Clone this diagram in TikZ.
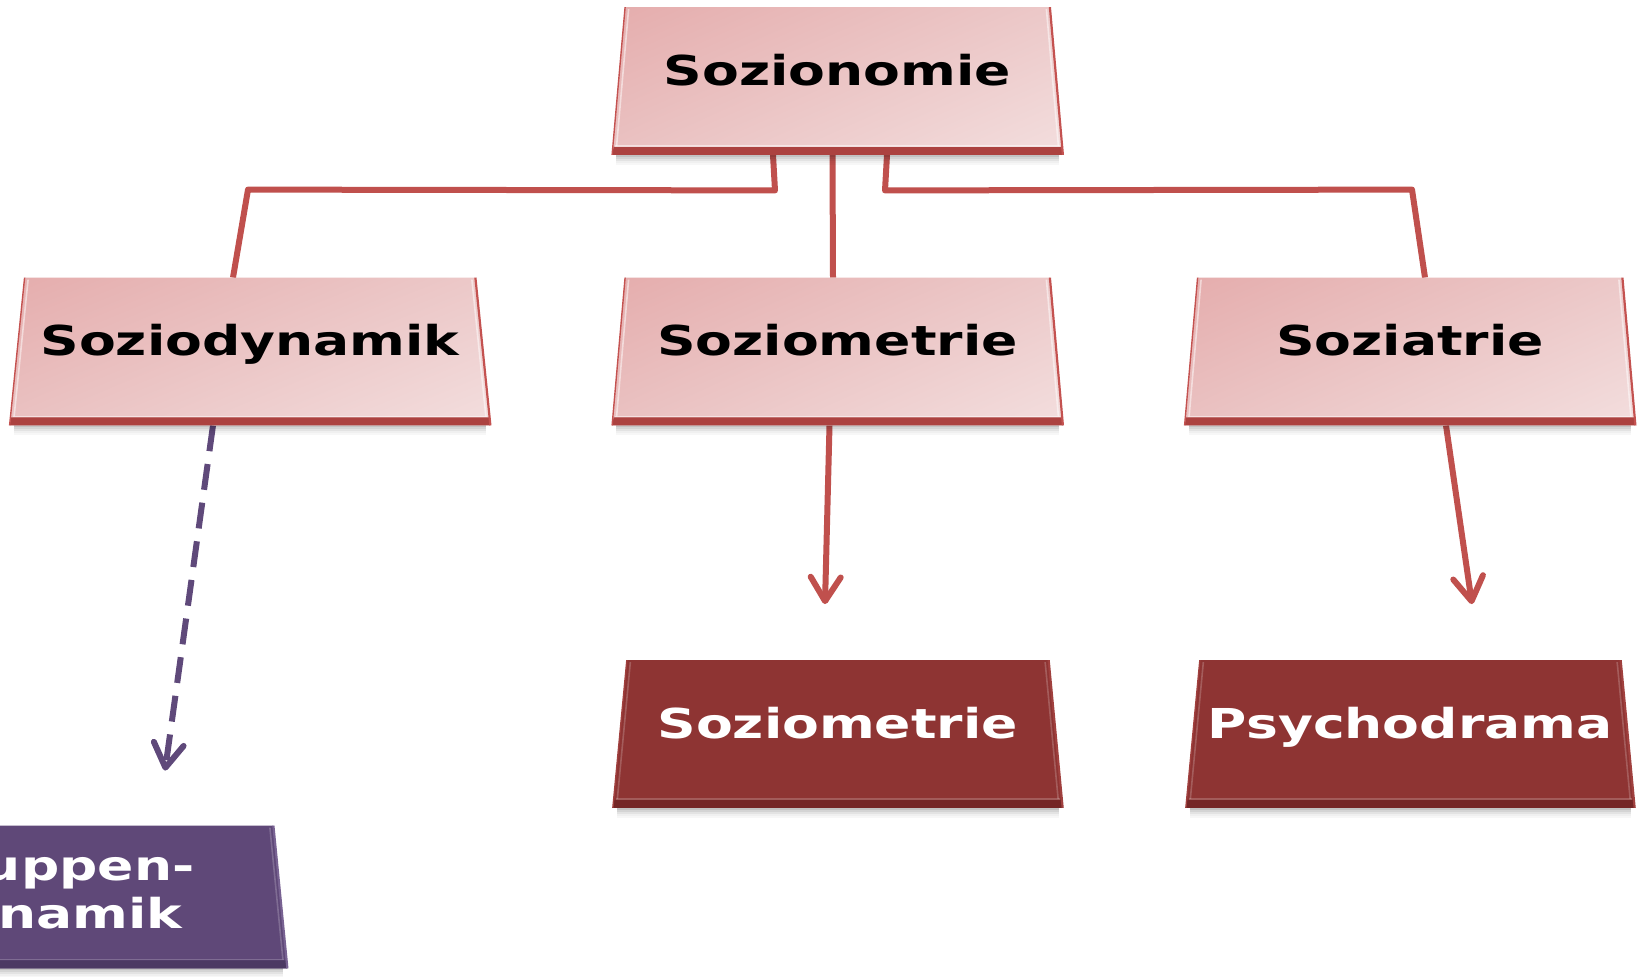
\documentclass[tikz,border=0pt]{standalone}
\usepackage{fontspec}
\newfontfamily\cardfont{DejaVu Sans}[FakeStretch=1.3]
\usetikzlibrary{calc,arrows.meta,shadings}

\definecolor{linkred}{HTML}{C0504D}
\definecolor{pinkA}{RGB}{229,173,173}
\definecolor{pinkB}{RGB}{236,201,201}
\definecolor{pinkC}{RGB}{234,194,194}
\definecolor{pinkD}{RGB}{243,222,222}
\definecolor{pinkBand}{RGB}{172,66,64}
\definecolor{pinkEdge}{RGB}{196,82,80}
\definecolor{wine}{RGB}{142,52,51}
\definecolor{wineBand}{RGB}{116,38,38}
\definecolor{wineEdge}{RGB}{160,64,62}
\definecolor{plum}{RGB}{95,72,120}
\definecolor{plumBand}{RGB}{76,57,99}
\definecolor{plumEdge}{RGB}{120,98,146}
\definecolor{plumLink}{RGB}{95,73,122}

\pgfdeclarelayer{bg}
\pgfdeclarelayer{links}
\pgfdeclarelayer{cards}
\pgfsetlayers{bg,links,cards,main}

\tikzset{
  card/.style={minimum height=73.5pt, inner sep=0pt,
    font=\cardfont\bfseries\fontsize{20.6}{24}\selectfont,
    text height=15pt, text depth=11pt},
  lightcard/.style={card, text=black},
  darkcard/.style={card, text=white},
  pinkfill/.style={upper left=pinkA, upper right=pinkB, lower left=pinkC, lower right=pinkD},
  winefill/.style={top color=wine, bottom color=wine},
  plumfill/.style={top color=plum, bottom color=plum},
  link/.style={linkred, line width=3pt, line join=round},
  arrowlink/.style={link, -{Straight Barb[length=12pt,width=15pt,round]}},
  dashlink/.style={plumLink, line width=3pt, dash pattern=on 13pt off 6.5pt,
    -{Straight Barb[length=12pt,width=15pt,round]}},
}

% Bevelled card behind a node: #1 node, #2 half slant (px), #3 fill style,
% #4 bottom band colour, #5 side edge colour, #6 highlight strength
\newcommand\cardbody[6]{%
  \begin{pgfonlayer}{cards}
    \path (#1.north west) ++(#2,0) coordinate (#1-nw)
          (#1.north east) ++(-#2,0) coordinate (#1-ne)
          (#1.south east) ++(#2,0) coordinate (#1-se)
          (#1.south west) ++(-#2,0) coordinate (#1-sw);
    % soft shadow under the card
    \foreach \d/\o in {1/0.24,3/0.17,5/0.11,7/0.06,9/0.03}
      \draw[black, opacity=\o, line width=1pt]
        ($(#1-sw)+(4,\d)$) -- ($(#1-se)+(-4,\d)$);
    \shade[#3] (#1-nw) -- (#1-ne) -- (#1-se) -- (#1-sw) -- cycle;
    \fill[#4] (#1-sw) -- (#1-se) -- ($(#1-se)+(-1.5,-8)$) -- ($(#1-sw)+(1.5,-8)$) -- cycle;
    \draw[white, opacity=#6, line width=0.8pt]
      ($(#1-sw)+(3,-9)$) -- ($(#1-se)+(-3,-9)$);
    \draw[white, opacity=#6, line width=0.8pt]
      ($(#1-ne)+(-3.5,2)$) -- ($(#1-se)+(-4.5,-9)$);
    \draw[white, opacity=#6, line width=0.8pt]
      ($(#1-nw)+(3.5,2)$) -- ($(#1-sw)+(4.5,-9)$);
    \draw[#5, line width=1.1pt] (#1-ne) -- (#1-se);
    \draw[#5, line width=0.7pt] (#1-nw) -- (#1-sw);
  \end{pgfonlayer}}

\begin{document}
\begin{tikzpicture}[x=0.5pt, y=-0.5pt]
  \useasboundingbox (0,0) rectangle (1640,976);
  \begin{pgfonlayer}{bg}
    \fill[white] (0,0) rectangle (1640,976);
  \end{pgfonlayer}

  % cards
  \node[lightcard, minimum width=218.5pt] (top)   at (837.5,81)    {Sozionomie};
  \node[lightcard, minimum width=232.5pt] (dyn)   at (250,351.5)   {Soziodynamik};
  \node[lightcard, minimum width=218.5pt] (met)   at (837.5,351.5) {Soziometrie};
  \node[lightcard, minimum width=218.5pt] (sozia) at (1410,351.5)  {Soziatrie};
  \node[darkcard, minimum width=217.5pt]  (metb)  at (837.75,734)  {Soziometrie};
  \node[darkcard, minimum width=217pt]    (psy)   at (1410.25,734) {Psychodrama};
  \node[darkcard, minimum width=226.5pt, minimum height=71pt, align=center,
        text height=39pt, text depth=8pt] (grp) at (53.5,897) {Gruppen-\\dynamik};

  \cardbody{top}{6.5}{pinkfill}{pinkBand}{pinkEdge}{0.5}
  \cardbody{dyn}{7.5}{pinkfill}{pinkBand}{pinkEdge}{0.5}
  \cardbody{met}{6.5}{pinkfill}{pinkBand}{pinkEdge}{0.5}
  \cardbody{sozia}{6.5}{pinkfill}{pinkBand}{pinkEdge}{0.5}
  \cardbody{metb}{7}{winefill}{wineBand}{wineEdge}{0.2}
  \cardbody{psy}{7}{winefill}{wineBand}{wineEdge}{0.2}
  \cardbody{grp}{7}{plumfill}{plumBand}{plumEdge}{0.2}

  % connectors
  \begin{pgfonlayer}{links}
    \draw[link] ($(top.south)+(-64.5,0)$) -- ($(top.south)+(-62.5,35.5)$)
                -- ($(dyn.north)+(-2,-88)$) -- ($(dyn.north)+(-17,0)$);
    \draw[link] ($(top.south)+(-5,0)$) -- ($(met.north)+(-4.5,0)$);
    \draw[link] ($(top.south)+(49.5,0)$) -- ($(top.south)+(47.5,35.5)$)
                -- ($(sozia.north)+(2,-88)$) -- ($(sozia.north)+(15,0)$);
    \draw[arrowlink] ($(met.south)+(-8,0)$) -- ($(metb.north)+(-12.75,-56)$);
    \draw[arrowlink] ($(sozia.south)+(36,0)$) -- ($(psy.north)+(61.75,-56)$);
    \draw[dashlink] ($(dyn.south)+(-37,0)$) -- ($(grp.north)+(111.5,-55)$);
  \end{pgfonlayer}
\end{tikzpicture}
\end{document}
